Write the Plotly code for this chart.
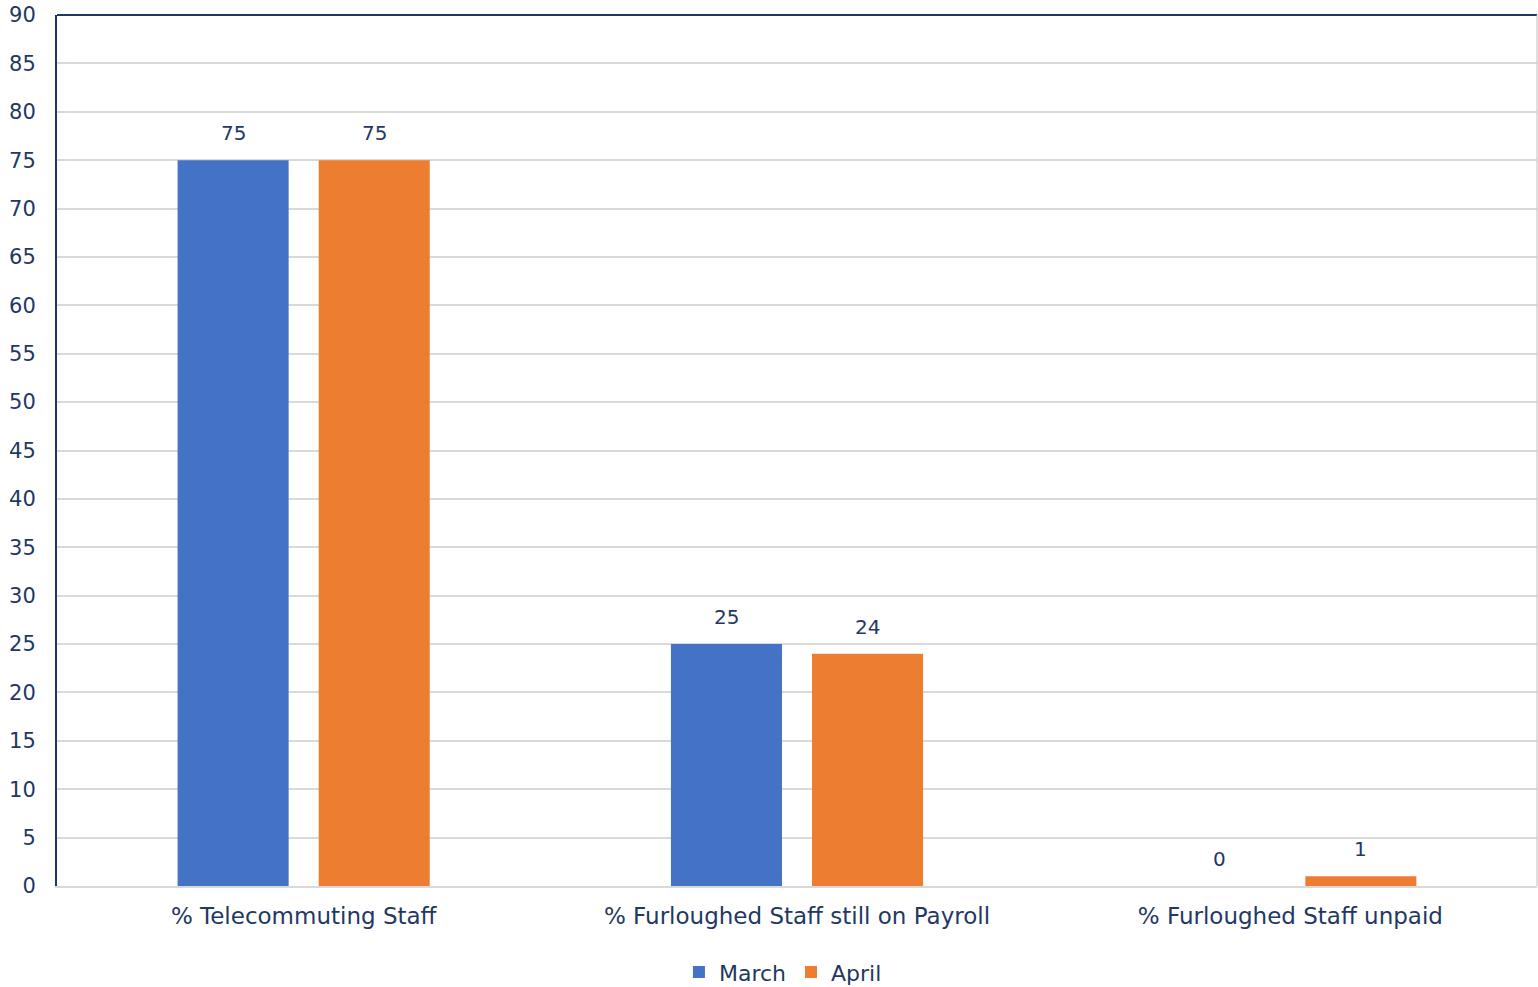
import plotly.graph_objects as go

categories = ["% Telecommuting Staff", "% Furloughed Staff still on Payroll", "% Furloughed Staff unpaid"]
march = [75, 25, 0]
april = [75, 24, 1]
y_ticks = list(range(0, 95, 5))

TEXT = "#1F3864"
BLUE = "#4472C4"
ORANGE = "#ED7D31"
FONT = "DejaVu Sans"

fig = go.Figure()
fig.add_trace(go.Bar(name="March", x=categories, y=march, marker=dict(color=BLUE, line_width=0)))
fig.add_trace(go.Bar(name="April", x=categories, y=april, marker=dict(color=ORANGE, line_width=0)))

# value labels above each bar
for offset, series in ((-0.5, march), (0.5, april)):
    for i, v in enumerate(series):
        fig.add_annotation(
            x=i + offset * 0.286, y=v, xref="x", yref="y",
            text=str(v), showarrow=False, yanchor="middle", yshift=27,
            font=dict(family=FONT, size=20, color=TEXT),
        )

# frame: navy top edge, grey right edge
fig.add_shape(type="line", xref="paper", yref="paper", x0=0, x1=1, y0=1, y1=1,
              line=dict(color="#203864", width=2))
fig.add_shape(type="line", xref="paper", yref="paper", x0=1, x1=1, y0=0, y1=1,
              line=dict(color="#BFBFBF", width=1))

fig.update_layout(
    width=1538, height=987,
    margin=dict(l=57, r=1, t=15, b=101, autoexpand=False),
    paper_bgcolor="white", plot_bgcolor="white",
    barmode="group", bargap=0.428, bargroupgap=0.213,
    font=dict(family=FONT, size=20, color=TEXT),
    showlegend=True,
    legend=dict(orientation="h", x=0.4905, xanchor="center", y=-0.099, yanchor="middle",
                font=dict(family=FONT, size=22, color=TEXT), itemwidth=30,
                traceorder="normal"),
    xaxis=dict(
        type="category", range=[-0.5, 2.5], showgrid=False, automargin=False,
        showline=True, linecolor="#D9D9D9", linewidth=2,
        ticks="", ticklabelstandoff=8,
        tickfont=dict(family=FONT, size=23, color=TEXT),
    ),
    yaxis=dict(
        range=[0, 90], tickvals=y_ticks, showgrid=True, gridcolor="#D9D9D9", gridwidth=2,
        zeroline=False, showline=True, linecolor="#203864", linewidth=2,
        ticks="", ticklabelstandoff=15, automargin=False,
        tickfont=dict(family=FONT, size=21, color=TEXT),
    ),
)

fig.write_html("out.html")
